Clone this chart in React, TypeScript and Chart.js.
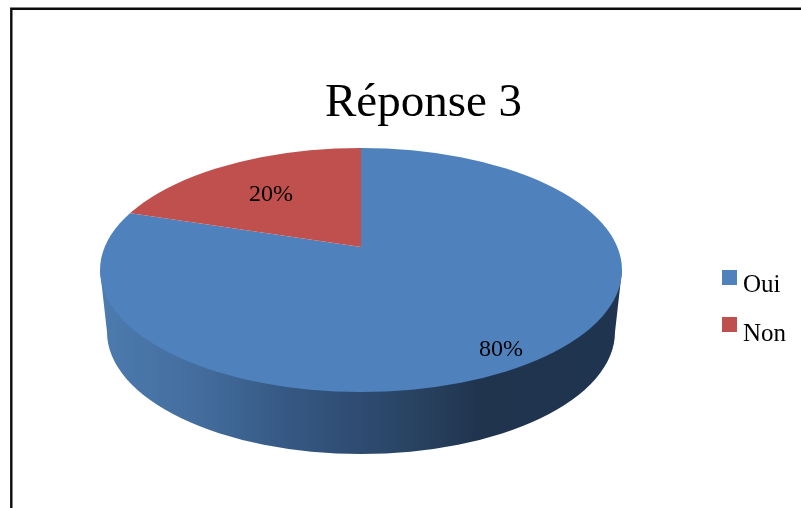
import React, { useEffect, useRef } from "react";
import { Chart, registerables } from "chart.js";

Chart.register(...registerables);

const chartTitle = "Réponse 3";
const categories = ["Oui", "Non"];
const values = [80, 20];
const sliceColors = ["#4F81BD", "#C0504D"];

const SERIF = "'Liberation Serif', 'Times New Roman', serif";

// Geometry of the tilted disc
const TOP = { cx: 361, cy: 270, rx: 261, ry: 122 };
const BASE = { cx: 361, cy: 332, rx: 254, ry: 122 };
const APEX = { x: 361, y: 247 };
const TILT = 0.45;
const REACH = 340;
const LABEL_POS = [
  { x: 501, y: 350 },
  { x: 271, y: 195 },
];
const LEGEND_POS = [
  { x: 722, y: 270, tx: 743, ty: 292 },
  { x: 722, y: 317, tx: 743, ty: 341 },
];

const disc3d = {
  id: "disc3d",
  beforeDatasetsDraw(chart: any) {
    const ctx = chart.ctx;
    // side wall
    ctx.save();
    const g = ctx.createLinearGradient(TOP.cx - TOP.rx, 0, TOP.cx + TOP.rx, 0);
    g.addColorStop(0, "#4C7BAF");
    g.addColorStop(0.2, "#436C9C");
    g.addColorStop(0.345, "#365A85");
    g.addColorStop(0.5, "#2E4B70");
    g.addColorStop(0.65, "#263E5B");
    g.addColorStop(0.72, "#20344E");
    g.addColorStop(1, "#1F344E");
    ctx.fillStyle = g;
    ctx.beginPath();
    ctx.moveTo(TOP.cx - TOP.rx, TOP.cy);
    ctx.lineTo(BASE.cx - BASE.rx, BASE.cy);
    ctx.ellipse(BASE.cx, BASE.cy, BASE.rx, BASE.ry, 0, Math.PI, 0, true);
    ctx.lineTo(TOP.cx + TOP.rx, TOP.cy);
    ctx.closePath();
    ctx.fill();
    ctx.restore();

    // slices: clipped to the top face, projected from the apex
    const arc = chart.getDatasetMeta(0).data[0];
    const k = REACH / arc.outerRadius;
    ctx.save();
    ctx.beginPath();
    ctx.ellipse(TOP.cx, TOP.cy, TOP.rx, TOP.ry, 0, 0, Math.PI * 2);
    ctx.clip();
    ctx.translate(APEX.x, APEX.y);
    ctx.scale(k, k * TILT);
    ctx.translate(-arc.x, -arc.y);
  },
  afterDatasetsDraw(chart: any) {
    const ctx = chart.ctx;
    ctx.restore();

    ctx.save();
    ctx.fillStyle = "#000";
    ctx.textBaseline = "middle";
    ctx.textAlign = "center";
    ctx.font = `24px ${SERIF}`;
    values.forEach((v, i) => ctx.fillText(`${v}%`, LABEL_POS[i].x, LABEL_POS[i].y));

    // legend
    ctx.textAlign = "left";
    ctx.textBaseline = "alphabetic";
    ctx.font = `25px ${SERIF}`;
    categories.forEach((c, i) => {
      const p = LEGEND_POS[i];
      ctx.fillStyle = sliceColors[i];
      ctx.fillRect(p.x, p.y, 15, 15);
      ctx.fillStyle = "#000";
      ctx.fillText(c, p.tx, p.ty);
    });

    // frame, open at right and bottom
    ctx.strokeStyle = "#0c0c0c";
    ctx.lineWidth = 2.4;
    ctx.beginPath();
    ctx.moveTo(11.3, 508);
    ctx.lineTo(11.3, 8.8);
    ctx.lineTo(801, 8.8);
    ctx.stroke();
    ctx.restore();
  },
};

export default function App() {
  const ref = useRef<HTMLCanvasElement>(null);
  useEffect(() => {
    document.body.style.margin = "0";
    document.body.style.overflow = "hidden";
    const chart = new Chart(ref.current!, {
      type: "pie",
      data: {
        labels: categories,
        datasets: [{ data: values, backgroundColor: sliceColors, borderWidth: 0 }],
      },
      options: {
        responsive: false,
        animation: false,
        devicePixelRatio: 1,
        layout: { padding: { left: 46, right: 0, top: 0, bottom: 0 } },
        plugins: {
          legend: { display: false },
          tooltip: { enabled: false },
          title: {
            display: true,
            text: chartTitle,
            color: "#000",
            font: { family: SERIF, size: 47, weight: "normal" },
            padding: { top: 75, bottom: 10 },
          },
        },
      } as any,
      plugins: [disc3d],
    });
    return () => chart.destroy();
  }, []);
  return (
    <div style={{ position: "absolute", left: 0, top: 0, width: 801, height: 508, background: "#fff" }}>
      <canvas ref={ref} width={801} height={508} style={{ display: "block" }} />
    </div>
  );
}
